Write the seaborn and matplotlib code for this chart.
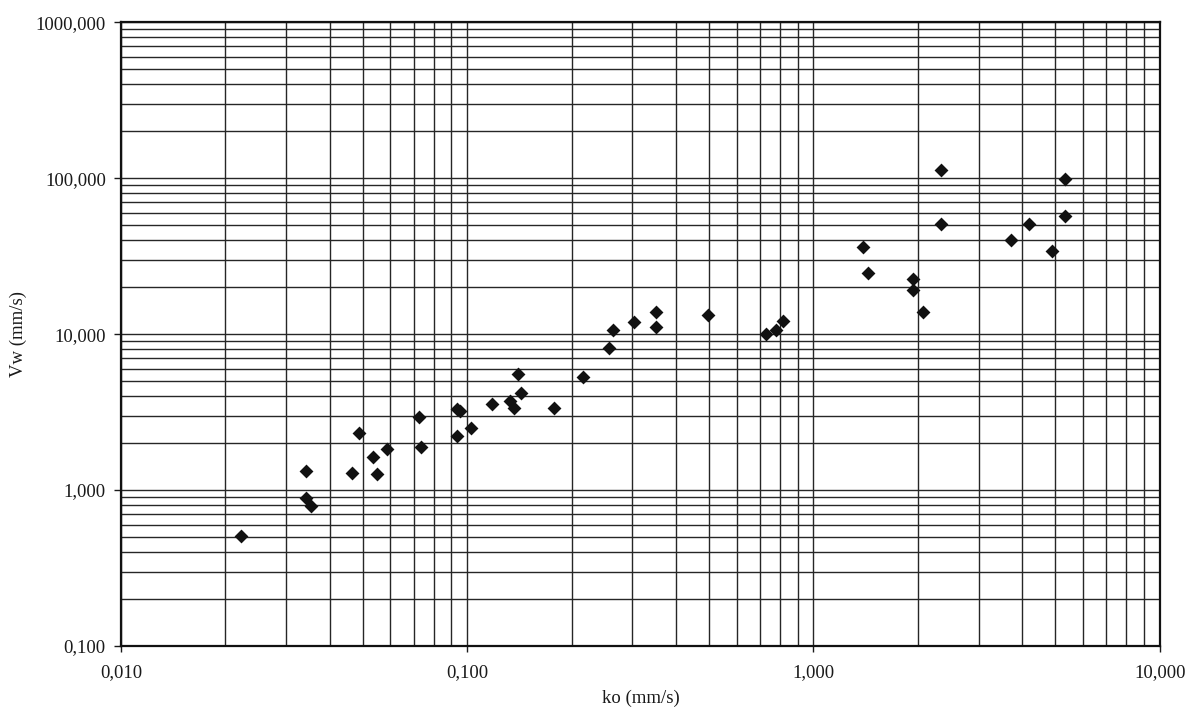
import matplotlib
matplotlib.use("Agg")
import matplotlib.pyplot as plt
import matplotlib.ticker as mticker
import numpy as np
import pandas as pd
import seaborn as sns

# Measured ko against Vw (both in mm/s)
ko = [0.0222, 0.0343, 0.0343, 0.0353, 0.0465, 0.0488, 0.0534, 0.0547, 0.0587, 0.0724,
      0.0734, 0.0931, 0.0954, 0.0933, 0.1024, 0.118, 0.1327, 0.1368, 0.1434, 0.140,
      0.1786, 0.216, 0.2566, 0.2637, 0.304, 0.351, 0.351, 0.497, 0.727, 0.779,
      0.819, 1.39, 1.436, 1.942, 1.942, 2.07, 2.33, 2.33, 3.71, 4.19,
      4.90, 5.31, 5.31]
vw = [0.51, 1.32, 0.888, 0.785, 1.29, 2.31, 1.63, 1.27, 1.83, 2.93,
      1.89, 3.31, 3.22, 2.23, 2.51, 3.57, 3.73, 3.38, 4.19, 5.54,
      3.34, 5.32, 8.11, 10.7, 11.9, 13.8, 11.1, 13.2, 9.95, 10.7,
      12.2, 36.4, 24.8, 22.5, 19.3, 13.9, 112, 50.5, 39.9, 50.9,
      34.3, 99, 57.0]

x_limits = (0.01, 10)
y_limits = (0.1, 1000)
x_label = "ko (mm/s)"
y_label = "Vw (mm/s)"

df = pd.DataFrame({"ko": ko, "vw": vw})

sns.set_style("white")
plt.rcParams["font.family"] = ["Liberation Serif", "DejaVu Serif"]

fig = plt.figure(figsize=(11.87, 7.17), dpi=100)
ax = fig.add_axes([0.102, 0.099, 0.875, 0.870])

ax.set_xscale("log")
ax.set_yscale("log")
ax.set_xlim(*x_limits)
ax.set_ylim(*y_limits)

# Full log grid: decades and every intermediate 2..9 line
grid_kw = dict(color="#262626", linewidth=1.0)
ax.xaxis.set_major_locator(mticker.LogLocator(base=10))
ax.xaxis.set_minor_locator(mticker.LogLocator(base=10, subs=np.arange(2, 10)))
ax.yaxis.set_major_locator(mticker.LogLocator(base=10))
ax.yaxis.set_minor_locator(mticker.LogLocator(base=10, subs=np.arange(2, 10)))
ax.grid(True, which="both", **grid_kw)
ax.set_axisbelow(True)

sns.scatterplot(data=df, x="ko", y="vw", ax=ax, marker="D", color="#111111",
                s=50, linewidth=0, zorder=3, legend=False)


def comma_fmt(v, pos):
    return f"{v:.3f}".replace(".", ",")


ax.xaxis.set_major_formatter(mticker.FuncFormatter(comma_fmt))
ax.yaxis.set_major_formatter(mticker.FuncFormatter(comma_fmt))
ax.xaxis.set_minor_formatter(mticker.NullFormatter())
ax.yaxis.set_minor_formatter(mticker.NullFormatter())

ax.tick_params(axis="x", which="major", direction="out", length=4, width=1,
               pad=9, labelsize=13.5, colors="#1a1a1a", bottom=True)
ax.tick_params(axis="y", which="major", direction="out", length=5, width=1,
               pad=6, labelsize=13.5, colors="#1a1a1a", left=True)
ax.tick_params(which="minor", length=0)

for side, spine in ax.spines.items():
    spine.set_visible(True)
    spine.set_color("#111111")
    spine.set_linewidth(1.6)

ax.set_xlabel(x_label, fontsize=13.5, color="#1a1a1a", labelpad=6)
ax.set_ylabel(y_label, fontsize=13.5, color="#1a1a1a", labelpad=6)

fig.savefig("out.png", dpi=100, facecolor="white")
